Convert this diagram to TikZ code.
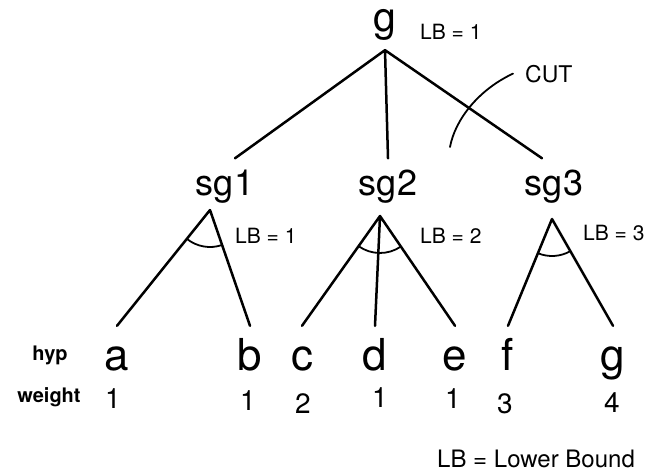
\documentclass[tikz,border=0pt]{standalone}
\usepackage{fontspec}
\setmainfont{TeX Gyre Heros}
\usetikzlibrary{angles}
\newcommand{\fsz}[1]{\fontsize{#1}{#1}\selectfont}
\begin{document}
\begin{tikzpicture}[x=1pt, y=1pt, line cap=round, line join=round,
	goal/.style={font=\fsz{41}, anchor=base, inner sep=10pt},
	subgoal/.style={font=\fsz{36}, anchor=base, inner sep=11pt},
	leaf/.style={font=\fsz{44}, anchor=base, inner sep=12pt, text height=32pt},
	wt/.style={font=\fsz{28}, anchor=base, inner sep=0pt},
	lbnote/.style={font=\fsz{21}, anchor=base west, inner sep=0pt},
	rowname/.style={font=\bfseries\fsz{20}, anchor=base, inner sep=0pt},
	edge/.style={line width=2.5pt},
	andarc/.style={draw, line width=1.8pt, angle radius=#1}]
	\useasboundingbox (0,0) rectangle (668,-474);
	% goal, subgoals and the cut
	\node[goal] (root) at (385,-31) {g};
	\node[lbnote] (lb0) at (420,-39) {LB = 1};
	\node[subgoal] (sg1) at (225,-195) {sg1};
	\node[subgoal] (sg2) at (388,-195) {sg2};
	\node[subgoal] (sg3) at (554,-195) {sg3};
	\draw[edge] (root.south) -- ([xshift=10pt]sg1.north)
		(root.south) -- (sg2.north)
		(root.south) -- ([xshift=-12pt]sg3.north);
	\node[font=\fsz{23}, anchor=base west, inner sep=12pt] (cut) at (513,-82) {CUT};
	\draw[line width=1.8pt] (cut.west) .. controls (478,-90) and (455,-120) .. (450,-147);
	\node[lbnote] (lb1) at (235,-243) {LB = 1};
	\node[lbnote] (lb2) at (420,-243) {LB = 2};
	\node[lbnote] (lb3) at (583,-240) {LB = 3};
	% and-forks below the subgoals
	\coordinate (f1) at (210,-210);
	\coordinate (f2) at (380,-216);
	\coordinate (f3) at (552,-219);
	% hypotheses and weights
	\node[rowname] (hyp) at (50,-360) {hyp};
	\node[rowname] (weight) at (49,-402) {weight};
	\foreach \n/\x in {a/117,b/250,c/302,d/375,e/455,f/508,g/613}
		\node[leaf] (\n) at (\x,-370) {\n};
	\foreach \n/\x/\y/\w in {a/113/408/1,b/248/410/1,c/303/413/2,d/380/407/1,e/453/408/1,f/505/413/3,g/612/412/4}
		\node[wt] (w\n) at (\x,-\y) {\w};
	\draw[edge] (f1) -- (a.north) (f1) -- (b.north)
		(f2) -- (c.north) (f2) -- (d.north) (f2) -- (e.north)
		(f3) -- (f.north) (f3) -- (g.north);
	\foreach \l/\f/\r in {a/f1/b,c/f2/e,f/f3/g}{
		\coordinate (\l-end) at (\l.north);
		\coordinate (\r-end) at (\r.north);
		\pic[andarc=37pt] {angle=\l-end--\f--\r-end};
	}
	\node[font=\fsz{24}, anchor=base west, inner sep=0pt] (legend) at (437,-467) {LB = Lower Bound};
\end{tikzpicture}
\end{document}
